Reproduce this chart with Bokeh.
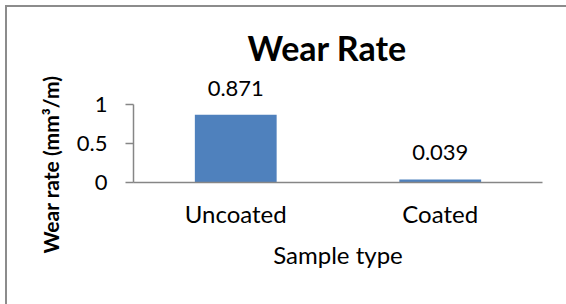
from bokeh.plotting import figure
from bokeh.models import ColumnDataSource, LabelSet, FixedTicker, FactorRange, Range1d, Title
from bokeh.core.properties import value
from bokeh.embed import file_html
from bokeh.resources import INLINE

# ---- data ----
categories = ["Uncoated", "Coated"]
wear_rate = [0.871, 0.039]
value_labels = ["0.871", "0.039"]
y_ticks = [0, 0.5, 1]
y_tick_labels = ["0", "0.5", "1"]

title_text = "Wear Rate"
x_title = "Sample type"
y_title = "Wear rate (mm³/m)"

# ---- style ----
FONT = "Lato"
BAR = "#4F81BD"
AXIS = "#868686"
FRAME_GRAY = "#8c8c8c"

source = ColumnDataSource(dict(cat=categories, val=wear_rate, lbl=value_labels))

p = figure(width=566, height=304,
           x_range=FactorRange(factors=categories), y_range=Range1d(0, 1.4),
           output_backend="svg", toolbar_location=None,
           min_border_left=133, min_border_right=24,
           min_border_top=73, min_border_bottom=122)

# chart-area border (left and top edges visible, like the reference)
p.styles = {"box-shadow": "inset 5px 5px 0 0 #ffffff, inset 7px 7px 0 0 " + FRAME_GRAY}
p.background_fill_color = "white"
p.border_fill_color = None
p.outline_line_color = None
p.xgrid.grid_line_color = None
p.ygrid.grid_line_color = None

p.title.text = title_text
p.title.align = "left"
p.title.offset = 114
p.title.text_font = FONT
p.title.text_font_size = "34px"
p.title.text_font_style = "bold"
p.title.text_color = "black"
p.title.standoff = 12

p.vbar(x="cat", top="val", width=0.4, source=source,
       fill_color=BAR, line_color=None)

labels = LabelSet(x="cat", y="val", text="lbl", source=source,
                  text_align="center", text_baseline="alphabetic",
                  y_offset=19, text_font=value(FONT),
                  text_font_size="22px", text_color="black")
p.add_layout(labels)

# x axis
xa = p.xaxis[0]
xa.axis_line_color = AXIS
xa.axis_line_width = 1.5
xa.major_tick_line_color = None
xa.major_tick_out = 0
xa.major_tick_in = 0
xa.minor_tick_line_color = None
xa.major_label_standoff = 16
xa.major_label_text_font = FONT
xa.major_label_text_font_size = "24px"
xa.major_label_text_color = "black"
xa.axis_label = x_title
xa.axis_label_text_font = FONT
xa.axis_label_text_font_size = "24px"
xa.axis_label_text_font_style = "normal"
xa.axis_label_text_color = "black"
xa.axis_label_standoff = 9

# y axis
ya = p.yaxis[0]
ya.ticker = FixedTicker(ticks=y_ticks)
ya.bounds = (0, 1)
ya.major_label_overrides = dict(zip(y_ticks, y_tick_labels))
ya.axis_line_color = AXIS
ya.axis_line_width = 1.5
ya.major_tick_line_color = AXIS
ya.major_tick_line_width = 1.5
ya.major_tick_out = 8
ya.major_tick_in = 0
ya.minor_tick_line_color = None
ya.major_label_standoff = 18
ya.major_label_text_font = FONT
ya.major_label_text_font_size = "22px"
ya.major_label_text_color = "black"

ytitle = Title(text=y_title, align="left", offset=-71,
               text_font=FONT, text_font_size="21px",
               text_font_style="bold", text_color="black", standoff=22)
p.add_layout(ytitle, "left")

open("out.html", "w").write(file_html(p, INLINE))
